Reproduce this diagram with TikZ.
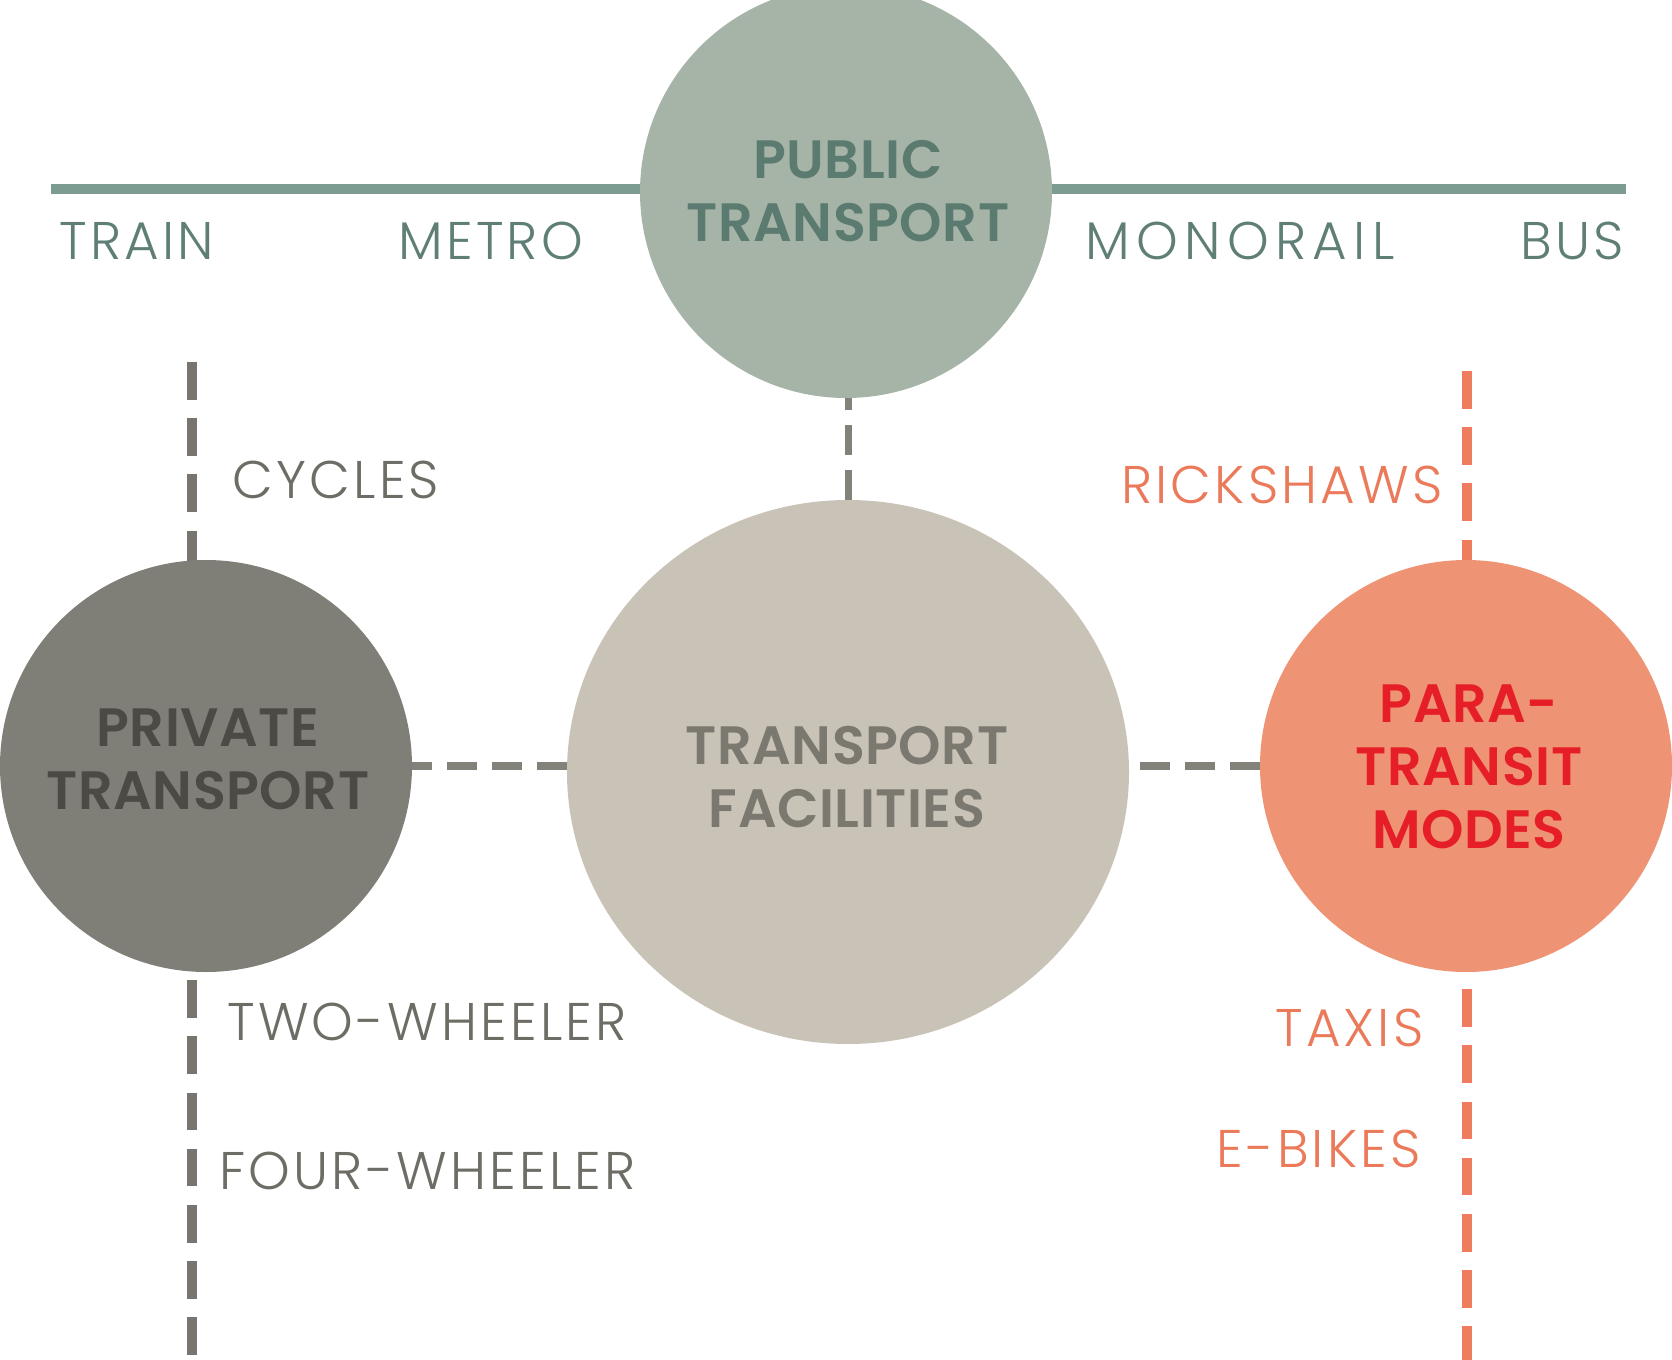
\documentclass[tikz,border=0pt]{standalone}
\usepackage{fontspec}
\usetikzlibrary{shapes.geometric}
\newfontfamily\labfont{Poppins Light}[LetterSpace=6]
\newfontfamily\ttlfont{Poppins SemiBold}[LetterSpace=1]
\definecolor{linecol}{HTML}{7C9C92}
\definecolor{publab}{HTML}{5F7F76}
\definecolor{pubfill}{HTML}{A6B4A8}
\definecolor{pubttl}{HTML}{5B7B70}
\definecolor{privfill}{HTML}{7F7E77}
\definecolor{privttl}{HTML}{4B4A45}
\definecolor{facfill}{HTML}{C9C2B6}
\definecolor{facttl}{HTML}{7A786F}
\definecolor{parafill}{HTML}{EE9373}
\definecolor{parattl}{HTML}{E61E27}
\definecolor{graylab}{HTML}{6D6C65}
\definecolor{graydash}{HTML}{77756D}
\definecolor{orlab}{HTML}{EB7A5B}
\definecolor{ordash}{HTML}{EE7C5D}
\definecolor{hdashcol}{HTML}{82817A}
\tikzset{
  bigcirc/.style={circle, inner sep=0pt, minimum size=206pt},
  ttl/.style={font=\ttlfont\fontsize{27}{31.5}\selectfont, align=center, inner sep=0pt},
  lab/.style={font=\labfont\fontsize{26.5}{30}\selectfont, inner sep=0pt},
  sidedash/.style={line width=5pt, dash pattern=on 18.8pt off 9.3pt},
  linkdash/.style={line width=4pt, hdashcol, dash pattern=on 15pt off 7.5pt},
}
\begin{document}
\begin{tikzpicture}[x=0.5pt,y=-0.5pt]
\useasboundingbox (0,0) rectangle (1672,1360);
\clip (0,0) rectangle (1672,1360);
% side dashed lines
\coordinate (vlT) at (192,362);
\coordinate (vlB) at (192,1380);
\coordinate (vrT) at (1467,371);
\coordinate (vrB) at (1467,1380);
\draw[sidedash, graydash] (vlT) -- (vlB);
\draw[sidedash, ordash] (vrT) -- (vrB);
% top line
\coordinate (lineL) at (51,189);
\coordinate (lineR) at (1626,189);
\draw[line width=5pt, linecol] (lineL) -- (lineR);
% circles
\node[bigcirc, fill=pubfill] (pub) at (846,192) {};
\node[bigcirc, fill=privfill] (priv) at (206,766) {};
\node[ellipse, inner sep=0pt, minimum width=281pt, minimum height=272pt, fill=facfill] (fac) at (848,772) {};
\node[bigcirc, fill=parafill] (para) at (1466,766) {};
% connectors
\draw[linkdash] (fac.west |- priv.east) -- (priv.east);
\draw[linkdash] (para.west) -- (fac.east |- para.west);
\draw[linkdash, line width=3.5pt] (fac.north) -- (fac.north |- pub.south);
% titles
\node[ttl, pubttl] (pubT) at (848,191.5) {PUBLIC\\TRANSPORT};
\node[ttl, privttl] (privT) at (208,759.5) {PRIVATE\\TRANSPORT};
\node[ttl, facttl] (facT) at (847,777.5) {TRANSPORT\\FACILITIES};
\node[ttl, parattl] (paraT) at (1469,767) {PARA-\\TRANSIT\\MODES};
% labels
\node[lab, publab, anchor=base west] (train) at (59,259) {TRAIN};
\node[lab, publab, anchor=base west] (metro) at (398,259) {METRO};
\node[lab, publab, anchor=base west] (mono) at (1085,259) {\addfontfeature{LetterSpace=12}MONORAIL};
\node[lab, publab, anchor=base east] (bus) at (1624,259) {BUS};
\node[lab, graylab, anchor=base west] (cyc) at (232,498) {CYCLES};
\node[lab, graylab, anchor=base west] (two) at (227,1040) {TWO-WHEELER};
\node[lab, graylab, anchor=base west] (four) at (219,1189) {FOUR-WHEELER};
\node[lab, orlab, anchor=base east] (rick) at (1443,503) {RICKSHAWS};
\node[lab, orlab, anchor=base east] (taxi) at (1424,1046) {TAXIS};
\node[lab, orlab, anchor=base east] (ebike) at (1421,1167) {E-BIKES};
\end{tikzpicture}
\end{document}
